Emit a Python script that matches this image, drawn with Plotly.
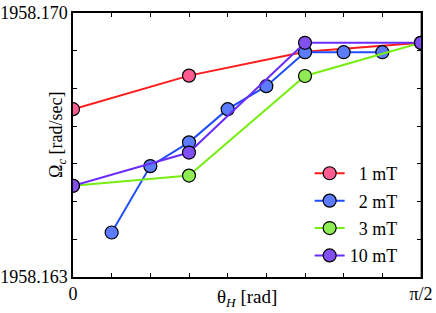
import numpy as np
import plotly.graph_objects as go

step = np.pi / 18
labels = ["  1 mT", "  2 mT", "  3 mT", "10 mT"]
red_idx = [0, 3, 6, 9]
red_val = [1958.16745, 1958.16834, 1958.16897, 1958.16921]
blue_idx = [1, 2, 3, 4, 5, 6, 7, 8]
blue_val = [1958.16418, 1958.16594, 1958.16657, 1958.16745, 1958.16806, 1958.16896, 1958.16896, 1958.16896]
green_idx = [0, 3, 6, 9]
green_val = [1958.16542, 1958.16569, 1958.16833, 1958.16921]
purple_idx = [0, 3, 6, 9]
purple_val = [1958.16542, 1958.16630, 1958.16921, 1958.16921]

xtick_vals = [i * step for i in range(10)]
xtick_text = ["0"] + [""] * 8 + ["π/2"]
ytick_vals = [1958.163 + 0.001 * i for i in range(8)]
ytick_text = ["1958.163"] + [""] * 6 + ["1958.170"]

series = [
    (labels[0], red_idx, red_val, "#ff1a1a", "#ff5c8f"),
    (labels[1], blue_idx, blue_val, "#1f4dff", "#5b7cff"),
    (labels[2], green_idx, green_val, "#77ee11", "#8fec55"),
    (labels[3], purple_idx, purple_val, "#6a2cff", "#8250f0"),
]

fig = go.Figure()
for i, (name, idx, val, lc, mc) in enumerate(series):
    fig.add_trace(go.Scatter(
        x=[k * step for k in idx], y=val, name=name, mode="lines+markers",
        line=dict(color=lc, width=2),
        marker=dict(size=13, color=mc, line=dict(color="black", width=1.2)),
        legendgroup=f"g{i}",
    ))

font = "Liberation Serif"
fig.update_layout(
    width=436, height=313,
    margin=dict(l=73, r=15, t=13, b=36),
    paper_bgcolor="white", plot_bgcolor="white",
    font=dict(family=font, size=17, color="black"),
    showlegend=True,
    legend=dict(x=0.68, y=0.462, xanchor="left", yanchor="top",
                bgcolor="rgba(0,0,0,0)", tracegroupgap=1,
                font=dict(family=font, size=18)),
    xaxis=dict(range=[0, np.pi / 2], tickvals=xtick_vals, ticktext=xtick_text,
               ticks="inside", ticklen=4, tickcolor="black", showgrid=False,
               zeroline=False, showline=True, linecolor="black", linewidth=1.5,
               mirror="ticks", tickfont=dict(family=font, size=18), automargin=False),
    yaxis=dict(range=[1958.163, 1958.170], tickvals=ytick_vals, ticktext=ytick_text,
               ticks="inside", ticklen=4, tickcolor="black", showgrid=False,
               zeroline=False, showline=True, linecolor="black", linewidth=1.5,
               mirror="ticks", tickfont=dict(family=font, size=18), automargin=False),
)
fig.add_annotation(text="θ<sub><i>H</i></sub> [rad]", xref="paper", yref="paper",
                   x=0.5, y=0, yshift=-21, xanchor="center", yanchor="middle",
                   showarrow=False, font=dict(family=font, size=19))
fig.add_annotation(text="Ω<sub><i>c</i></sub> [rad/sec]", xref="paper", yref="paper",
                   x=0, y=0.5, xshift=-16, yshift=10, xanchor="center", yanchor="middle",
                   textangle=-90, showarrow=False, font=dict(family=font, size=18))
fig.add_shape(type="line", xref="paper", yref="paper", x0=1, x1=1, y0=0, y1=1,
              line=dict(color="#888888", width=1.5), layer="below")
fig.write_html("out.html", config={"displayModeBar": False},
               post_script="document.body.style.margin='0';")
